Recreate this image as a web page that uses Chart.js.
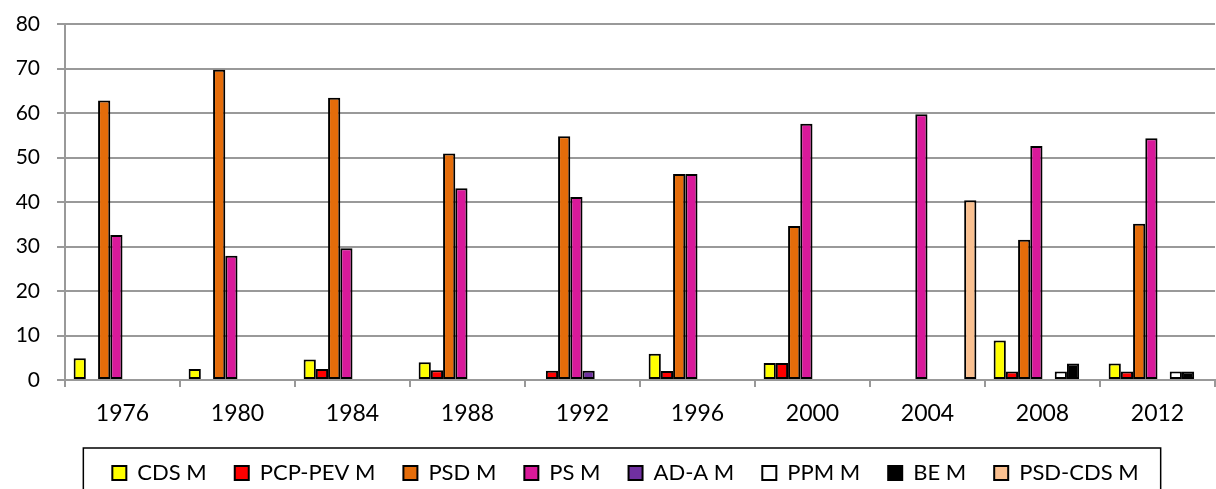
<!DOCTYPE html>
<html>
<head>
<meta charset="utf-8">
<script src="https://cdn.jsdelivr.net/npm/chart.js@4/dist/chart.umd.min.js"></script>
<style>
  html, body { margin: 0; padding: 0; background: #fff; }
  canvas { display: block; }
</style>
</head>
<body>
<canvas id="chart" width="1216" height="489"></canvas>
<script>
// categorias (anos)
const years = ['1976', '1980', '1984', '1988', '1992', '1996', '2000', '2004', '2008', '2012'];

// valores por serie
const cdsM    = [4.9, 2.5, 4.6, 4.0, null, 5.9, 3.8, null, 8.9, 3.7];
const pcpPevM = [null, null, 2.5, 2.2, 2.1, 2.0, 3.8, null, 1.9, 1.9];
const psdM    = [62.8, 69.7, 63.4, 50.9, 54.8, 46.3, 34.6, null, 31.5, 35.1];
const psM     = [32.6, 27.9, 29.6, 43.1, 41.1, 46.3, 57.6, 59.7, 52.6, 54.3];
const adaM    = [null, null, null, null, 2.1, null, null, null, null, null];
const ppmM    = [null, null, null, null, null, null, null, null, 1.9, 1.9];
const beM     = [null, null, null, null, null, null, null, null, 3.7, 1.9];
const psdCdsM = [null, null, null, null, null, null, null, 40.4, null, null];

// eixo y
const yTicks = [0, 10, 20, 30, 40, 50, 60, 70, 80];

const FONT = 'Lato, "Open Sans", sans-serif';

function serie(label, data, color) {
  return {
    label: label,
    data: data,
    backgroundColor: color,
    borderColor: '#000',
    borderWidth: 2,
    borderSkipped: false,
    categoryPercentage: 0.85,
    barPercentage: 1.0
  };
}

// legenda um pouco a direita + moldura
const legendBox = {
  id: 'legendBox',
  afterLayout(chart) {
    const lg = chart.legend;
    lg.left += 18;
    lg.right += 18;
    (lg.legendHitBoxes || []).forEach(b => { b.left += 18; });
  },
  afterDraw(chart) {
    const boxes = chart.legend.legendHitBoxes;
    if (!boxes || !boxes.length) return;
    const first = boxes[0], last = boxes[boxes.length - 1];
    const ctx = chart.ctx;
    ctx.save();
    ctx.strokeStyle = '#000';
    ctx.lineWidth = 1.5;
    const x1 = first.left - 29, x2 = last.left + last.width + 22;
    const y1 = first.top - 14;
    ctx.strokeRect(x1, y1, x2 - x1, 100);
    ctx.restore();
  }
};

new Chart(document.getElementById('chart'), {
  type: 'bar',
  data: {
    labels: years,
    datasets: [
      serie('CDS M', cdsM, '#FFFF00'),
      serie('PCP-PEV M', pcpPevM, '#FF0000'),
      serie('PSD M', psdM, '#E46C0A'),
      serie('PS M', psM, '#D9199A'),
      serie('AD-A M', adaM, '#7030A0'),
      serie('PPM M', ppmM, '#FFFFFF'),
      serie('BE M', beM, '#000000'),
      serie('PSD-CDS M', psdCdsM, '#FAC090')
    ]
  },
  options: {
    responsive: false,
    animation: false,
    layout: { padding: { top: 24, right: 1, left: 0, bottom: -5 } },
    plugins: {
      tooltip: { enabled: false },
      legend: {
        position: 'bottom',
        labels: {
          color: '#000',
          font: { family: FONT, size: 22 },
          boxWidth: 14,
          boxHeight: 14,
          padding: 28,
          useBorderRadius: false
        }
      }
    },
    scales: {
      x: {
        afterFit(scale) { scale.height = 54; },
        grid: {
          drawOnChartArea: false,
          drawTicks: true,
          tickLength: 7,
          color: '#999',
          lineWidth: 2
        },
        border: { color: '#999', width: 2 },
        ticks: {
          color: '#000',
          font: { family: FONT, size: 23 },
          padding: 13,
          maxRotation: 0
        }
      },
      y: {
        min: 0,
        max: 80,
        afterBuildTicks(scale) {
          scale.ticks = yTicks.map(v => ({ value: v }));
        },
        afterFit(scale) {
          scale.width = 65;
          scale.paddingTop = 0;
          scale.paddingBottom = 0;
        },
        grid: {
          color: '#999',
          lineWidth: 2,
          tickLength: 8
        },
        border: { color: '#999', width: 2 },
        ticks: {
          color: '#000',
          font: { family: FONT, size: 21 },
          padding: 17
        }
      }
    }
  },
  plugins: [legendBox]
});
</script>
</body>
</html>
